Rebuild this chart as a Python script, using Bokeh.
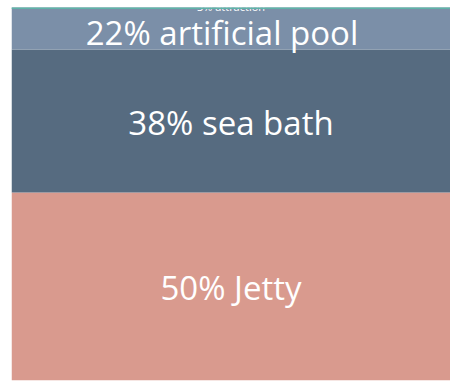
from bokeh.plotting import figure
from bokeh.models import ColumnDataSource, Range1d, Span
from bokeh.core.properties import value
from bokeh.embed import file_html
from bokeh.resources import INLINE

# data (bottom to top)
categories = ["Jetty", "sea bath", "artificial pool", "attraction"]
shares = [50, 38, 22, 3]
colors = ["#d99a8e", "#566b80", "#7b8fa8", "#5fb4a8"]

bottoms, tops = [], []
acc = 0
for s in shares:
    bottoms.append(acc)
    acc += s
    tops.append(acc)

y_end = 99.2
src = ColumnDataSource(dict(cat=categories, bottom=bottoms, top=tops, color=colors))

p = figure(width=450, height=381, output_backend="svg", toolbar_location=None,
           x_range=Range1d(0, 1), y_range=Range1d(0, y_end),
           min_border_left=11, min_border_right=0, min_border_top=7, min_border_bottom=1)
p.axis.visible = False
p.grid.visible = False
p.outline_line_color = None
p.background_fill_color = "white"

p.quad(left=0, right=1, bottom="bottom", top="top", fill_color="color",
       line_color=None, source=src)

p.add_layout(Span(location=y_end, dimension="width", line_color=colors[3], line_width=3))

# labels
lab_y, lab_txt = [], []
for c, s, b, t in zip(categories, shares, bottoms, tops):
    vis_t = min(t, y_end)
    if b >= y_end:
        continue
    lab_y.append((b + vis_t) / 2)
    lab_txt.append(f"{s}% {c}")
for i, (y, txt) in enumerate(zip(lab_y, lab_txt)):
    off = 4 if i == 2 else 1
    xoff = -9 if i == 2 else 0
    p.text(x=[0.5], y=[y], text=[txt], text_align="center", text_baseline="middle",
           text_color="white", text_font=value("Open Sans"), text_font_size="33px",
           y_offset=off, x_offset=xoff)

p.text(x=[0.5], y=[y_end], text=[f"{shares[3]}% {categories[3]}"], text_align="center",
       text_baseline="middle", text_color="white", text_font=value("Open Sans"),
       text_font_size="11px", y_offset=-1)

open("out.html", "w").write(file_html(p, INLINE))
